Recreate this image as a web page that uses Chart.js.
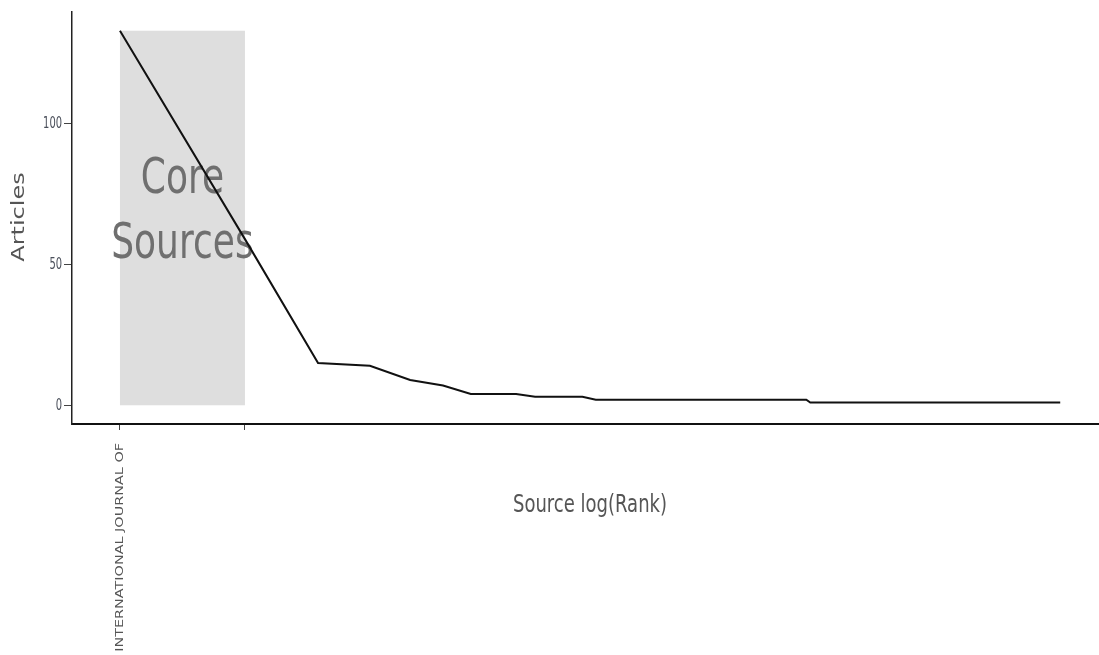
<!DOCTYPE html>
<html>
<head>
<meta charset="utf-8">
<title>Source log(Rank)</title>
<script src="https://cdn.jsdelivr.net/npm/chart.js@4/dist/chart.umd.min.js"></script>
<style>
  html, body { margin: 0; padding: 0; background: #ffffff; }
  #wrap { width: 1099px; height: 655px; position: relative; }
</style>
</head>
<body>
<div id="wrap"><canvas id="c" width="1099" height="655"></canvas></div>
<script>
// Articles published per source, grouped by level, and how many sources share each level
const articleLevels   = [133, 59, 15, 14, 9, 7, 4, 3, 2, 1];
const sourcesPerLevel = [1, 1, 1, 1, 1, 1, 3, 4, 32, 139];
// Number of top-ranked sources in the core zone
const coreSourceCount = 2;
// Source names shown on the x axis (core zone only)
const sourceTickLabels = ['INTERNATIONAL JOURNAL OF', ''];
const yTickValues = [0, 50, 100];

// Expand the level table into one point per ranked source
const points = [];
let rank = 1;
articleLevels.forEach((level, i) => {
  for (let j = 0; j < sourcesPerLevel[i]; j++) {
    points.push({ x: Math.log(rank), y: level });
    rank++;
  }
});
const maxArticles = Math.max(...articleLevels);

// Text drawn with a narrow horizontal squeeze
function drawText(ctx, text, x, y, opts) {
  ctx.save();
  ctx.translate(x, y);
  const sq = opts.squeeze || 0.72;
  if (opts.rotate) {
    ctx.rotate(opts.rotate);
    ctx.scale(1, sq);
  } else {
    ctx.scale(sq, 1);
  }
  ctx.font = opts.font;
  ctx.fillStyle = opts.color;
  ctx.textAlign = opts.align || 'center';
  ctx.textBaseline = opts.baseline || 'middle';
  ctx.fillText(text, 0, 0);
  ctx.restore();
}

const bradfordPlugin = {
  id: 'bradford',
  beforeDatasetsDraw(chart) {
    const { ctx, scales: { x, y } } = chart;
    // Core zone shading
    const x0 = x.getPixelForValue(Math.log(1));
    const x1 = x.getPixelForValue(Math.log(coreSourceCount));
    const yTop = y.getPixelForValue(maxArticles);
    const yBot = y.getPixelForValue(0);
    ctx.save();
    ctx.fillStyle = '#dedede';
    ctx.fillRect(x0, yTop, x1 - x0, yBot - yTop);
    ctx.restore();
    const cx = (x0 + x1) / 2;
    drawText(ctx, 'Core', cx, 180, { font: '50px "DejaVu Sans"', color: '#6f6f6f' });
    drawText(ctx, 'Sources', cx, 245, { font: '50px "DejaVu Sans"', color: '#6f6f6f' });
  },
  afterDraw(chart) {
    const { ctx, scales: { x, y } } = chart;
    // y tick labels
    y.ticks.forEach(t => {
      drawText(ctx, String(t.value), 62, y.getPixelForValue(t.value) + 0.5,
        { font: '16px "DejaVu Sans"', color: '#4a4f5a', align: 'right', squeeze: 0.62 });
    });
    // source names, reading upward from the bottom
    x.ticks.forEach((t, i) => {
      const label = sourceTickLabels[i] || '';
      if (!label) return;
      drawText(ctx, label, x.getPixelForValue(t.value), 443,
        { font: '14.4px "DejaVu Sans"', color: '#555555', align: 'right', rotate: -Math.PI / 2 });
    });
    // axis titles
    drawText(ctx, 'Articles', 20, 217,
      { font: '24px "DejaVu Sans"', color: '#555555', rotate: -Math.PI / 2 });
    drawText(ctx, 'Source log(Rank)', 590, 506,
      { font: '24px "DejaVu Sans"', color: '#555555', squeeze: 0.75 });
  }
};

new Chart(document.getElementById('c'), {
  type: 'line',
  data: {
    datasets: [{
      data: points,
      borderColor: '#111111',
      borderWidth: 2,
      pointRadius: 0,
      tension: 0,
      fill: false
    }]
  },
  options: {
    responsive: false,
    animation: false,
    devicePixelRatio: 1,
    layout: { padding: { top: 12, right: 0, bottom: 0, left: 0 } },
    plugins: { legend: { display: false }, tooltip: { enabled: false } },
    scales: {
      x: {
        type: 'linear',
        min: -0.266,
        max: 5.43,
        afterBuildTicks: s => {
          s.ticks = sourceTickLabels.map((_, i) => ({ value: Math.log(i + 1) }));
        },
        afterFit: s => { s.height = 231; },
        ticks: { callback: () => '', autoSkip: false },
        grid: { drawOnChartArea: false, drawTicks: true, tickLength: 6, color: '#444444', lineWidth: 1 },
        border: { display: true, color: '#111111', width: 2 }
      },
      y: {
        type: 'linear',
        min: -6.65,
        max: 139.65,
        afterBuildTicks: s => { s.ticks = yTickValues.map(v => ({ value: v })); },
        afterFit: s => { s.width = 72; },
        ticks: { callback: () => '' },
        grid: { drawOnChartArea: false, drawTicks: true, tickLength: 8, color: '#444444', lineWidth: 1 },
        border: { display: true, color: '#222222', width: 1.5 }
      }
    }
  },
  plugins: [bradfordPlugin]
});
</script>
</body>
</html>
